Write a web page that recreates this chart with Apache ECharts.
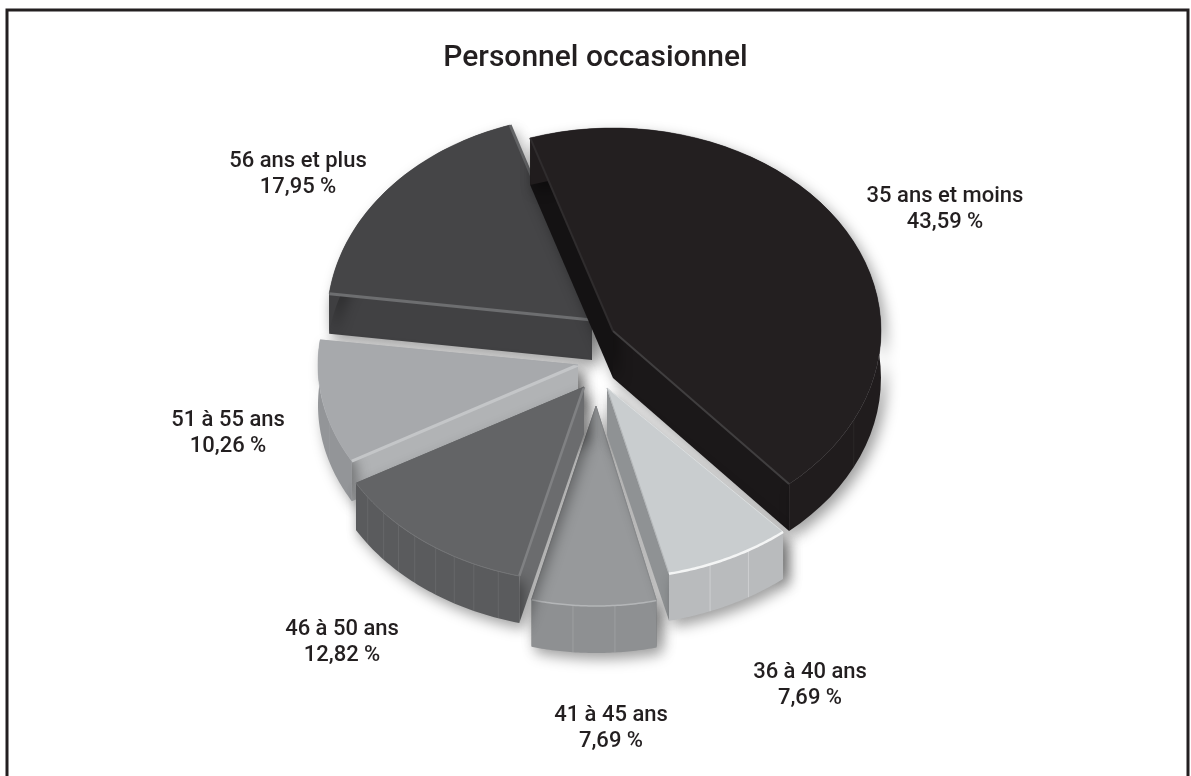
<!DOCTYPE html>
<html><head><meta charset="utf-8">
<style>html,body{margin:0;padding:0;background:#fff}#c{width:1191px;height:776px}</style>
<script src="https://cdn.jsdelivr.net/npm/echarts@6/dist/echarts.min.js"></script>
</head><body><div id="c"></div>
<script>
const chartTitle = 'Personnel occasionnel';
const categories = ['35 ans et moins','36 à 40 ans','41 à 45 ans','46 à 50 ans','51 à 55 ans','56 ans et plus'];
const shares = [43.59,7.69,7.69,12.82,10.26,17.95];

// Layout and styling, separate from the data
const startAngle = 108;
const drawOrder = [5,0,4,2,1,3];
const sliceLayout = [
  {cx:613,cy:331,rx:268,ry:203,d:47,face:'#231f20',arc:'#201c1d',wallA:'#141213',wallB:'#1b1819',first:'B',
   eA:['#2f2c2d',2],eB:['#403e3f',2],eArc:null,ticks:'rgba(255,255,255,.05)',tickN:6,lx:945,ly:209},
  {cx:607,cy:388,rx:268,ry:191,d:47,face:'#c9cdcf',arc:'#b9bbbd',wallA:'#b9bbbd',wallB:'#8f9294',first:'A',
   eA:['#dcdfe0',1],eB:['#b4b7b9',1],eArc:['#f4f5f5',2.5],ticks:'rgba(255,255,255,.3)',tickN:2,lx:810,ly:685},
  {cx:596,cy:406,rx:261,ry:200,d:47,face:'#97999b',arc:'#8e9092',wallA:'#8e9092',wallB:'#87898b',first:'A',
   eA:['#8f9193',1],eB:['#8f9193',1],eArc:['#b4b6b8',1.5],ticks:'rgba(255,255,255,.14)',tickN:2,lx:611,ly:728},
  {cx:584,cy:387,rx:262,ry:195,d:47,face:'#636466',arc:'#5a5b5d',wallA:'#6b6c6e',wallB:'#5a5b5d',first:'B',
   eA:['#808183',2.5],eB:['#636466',1],eArc:['#737476',1],ticks:'rgba(255,255,255,.08)',tickN:8,lx:342,ly:642},
  {cx:578,cy:365,rx:260,ry:195,d:40,face:'#a7a9ac',arc:'#939598',wallA:'#b1b3b5',wallB:'#939598',first:'B',
   eA:['#c4c6c8',3],eB:['#a7a9ac',1],eArc:null,ticks:'rgba(255,255,255,.05)',tickN:2,lx:228,ly:433},
  {cx:592,cy:320,rx:265,ry:205,d:40,face:'#454547',arc:'#3f3f41',wallA:'#414143',wallB:'#3f3f41',first:'B',
   eA:['#6d6e70',3],eB:['#636466',3],eArc:null,ticks:'rgba(255,255,255,.05)',tickN:2,lx:298,ly:174}
];
const fontFamily = 'Roboto';

const total = shares.reduce((a,b)=>a+b,0);
const pct = v => v.toFixed(2).replace('.',',')+' %';

function renderSlice(params, api){
  const i = api.value(0);
  const L = sliceLayout[i];
  let before = 0;
  for(let k=0;k<i;k++) before += shares[k];
  const a0 = startAngle - before/total*360;
  const a1 = a0 - api.value(1)/total*360;
  const P = (deg,dy=0)=>{const t=deg*Math.PI/180;return [L.cx+L.rx*Math.cos(t),L.cy-L.ry*Math.sin(t)+dy];};
  const arcTop=[],arcBot=[];
  const N=48;
  for(let k=0;k<=N;k++){const a=a0+(a1-a0)*k/N;arcTop.push(P(a));arcBot.push(P(a,L.d));}
  const apex=[L.cx,L.cy],apexB=[L.cx,L.cy+L.d];
  const shadow={shadowBlur:14,shadowColor:'rgba(0,0,0,.38)',shadowOffsetX:5,shadowOffsetY:6};
  const kids=[];
  const poly=(points,style)=>kids.push({type:'polygon',shape:{points},style});
  const line=(points,stroke,lineWidth)=>kids.push({type:'polyline',shape:{points},style:{stroke,lineWidth,fill:null}});
  const wallA=()=>poly([apex,arcTop[0],arcBot[0],apexB],{fill:L.wallA,...shadow});
  const wallB=()=>poly([apex,arcTop[N],arcBot[N],apexB],{fill:L.wallB,...shadow});
  if(L.first==='A'){wallA();wallB();}else{wallB();wallA();}
  poly(arcTop.concat(arcBot.slice().reverse()),{fill:L.arc,...shadow});
  const step=N/(L.tickN+1);
  for(let t=1;t<=L.tickN;t++){
    const k=Math.round(step*t);
    line([arcTop[k],arcBot[k]],L.ticks,1);
  }
  poly([apex].concat(arcTop),{fill:L.face,stroke:L.face,lineWidth:.5});
  line([apex,arcTop[0]],L.eA[0],L.eA[1]);
  line([apex,arcTop[N]],L.eB[0],L.eB[1]);
  if(L.eArc) line(arcTop,L.eArc[0],L.eArc[1]);
  kids.push({type:'text',style:{text:categories[i]+'\n'+pct(api.value(1)),x:L.lx,y:L.ly,align:'center',verticalAlign:'middle',
    fill:'#231f20',font:'500 22px '+fontFamily,lineHeight:26}});
  return {type:'group',children:kids};
}

const chart = echarts.init(document.getElementById('c'),null,{renderer:'canvas'});
chart.setOption({
  animation:false,
  backgroundColor:'#ffffff',
  title:{text:chartTitle,left:'center',top:38,textStyle:{fontFamily,fontWeight:500,fontSize:30,color:'#231f20'}},
  graphic:[{type:'rect',z:-1,shape:{x:7,y:10,width:1181,height:800},style:{fill:'none',stroke:'#231f20',lineWidth:3}}],
  series:[{type:'custom',coordinateSystem:'none',clip:false,renderItem:renderSlice,
    data:drawOrder.map(i=>[i,shares[i]])}]
});
</script></body></html>
